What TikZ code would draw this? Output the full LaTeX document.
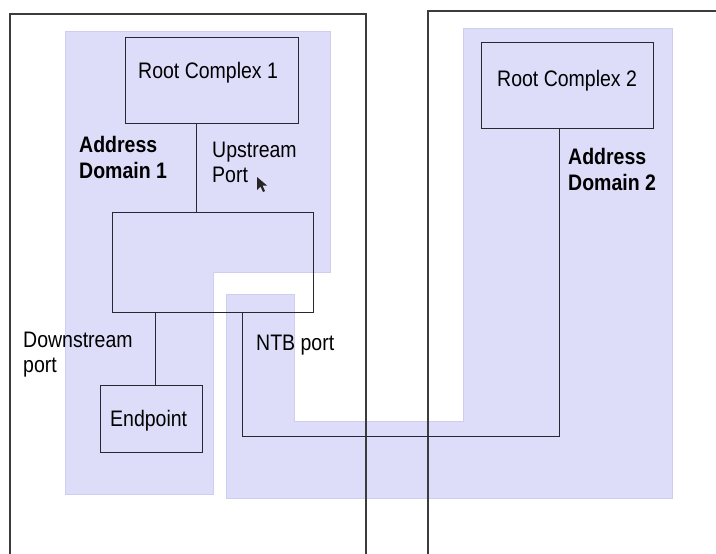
\documentclass[tikz,border=0pt]{standalone}
\usepackage{fontspec}
\setmainfont{Liberation Sans}
\definecolor{domainfill}{RGB}{221,221,250}
\definecolor{domainedge}{RGB}{206,206,240}
\definecolor{frameline}{RGB}{60,60,60}
\definecolor{boxline}{RGB}{40,40,50}
\begin{document}
\begin{tikzpicture}[x=1pt,y=-1pt,
  addrdomain/.style={fill=domainfill,draw=domainedge,line width=0.8pt},
  hostframe/.style={draw=frameline,line width=1.2pt},
  unitbox/.style={draw=boxline,line width=1pt,fill=none},
  linkwire/.style={draw=boxline,line width=1pt},
  lbl/.style={inner sep=0pt,anchor=north west,align=left,
    font=\fontsize{19.5}{22.2}\selectfont,yscale=1.15,transform shape},
  blbl/.style={lbl,font=\fontsize{19.5}{22.2}\selectfont\bfseries}]
\useasboundingbox (0,0) rectangle (716,554);
\fill[white] (0,0) rectangle (716,554);

% address domains (shaded areas)
\path[addrdomain] (65,31) -- (330,31) -- (330,272) -- (213,272) -- (213,494) -- (65,494) -- cycle;
\path[addrdomain] (226,294) -- (294,294) -- (294,421) -- (463,421) -- (463,28)
  -- (672,28) -- (672,498) -- (226,498) -- cycle;

% host frames
\draw[hostframe] (10,554) -- (10,14) -- (366,14) -- (366,554);
\draw[hostframe] (428,554) -- (428,11) -- (716,11);

% components
\node[unitbox,minimum width=173pt,minimum height=86pt] (rc1) at (211.5,80) {};
\node[unitbox,minimum width=201pt,minimum height=100pt] (sw) at (212.5,262) {};
\node[unitbox,minimum width=102pt,minimum height=67pt] (ep) at (151,418.5) {};
\node[unitbox,minimum width=172pt,minimum height=86pt] (rc2) at (567,85) {};

% links
\coordinate (up1) at (196,123);
\coordinate (dn1) at (155,312);
\coordinate (ntb) at (242,312);
\coordinate (rc2in) at (559,128);
\draw[linkwire] (up1) -- (up1 |- sw.north);
\draw[linkwire] (dn1) -- (dn1 |- ep.north);
\draw[linkwire] (ntb) -- (ntb |- 0,436) -- (rc2in |- 0,436) -- (rc2in);

% labels
\node[lbl] (t1) at (138,62.5) {Root Complex 1};
\node[lbl] (t2) at (497,70.5) {Root Complex 2};
\node[blbl] (t3) at (79,136.5) {Address\\Domain 1};
\node[blbl] (t4) at (568,148) {Address\\Domain 2};
\node[lbl] (t5) at (212,141.5) {Upstream\\Port};
\node[lbl] (t6) at (23,331.5) {Downstream\\port};
\node[lbl] (t7) at (256,334.5) {NTB port};
\node[lbl] (t8) at (110,410.5) {Endpoint};

% mouse pointer
\fill[black!85] (257,177) coordinate (ptr) -- (257,190) -- (260.5,186.5) -- (263,192)
  -- (265,191) -- (262.5,185.5) -- (267,185.5) -- cycle;
\end{tikzpicture}
\end{document}
